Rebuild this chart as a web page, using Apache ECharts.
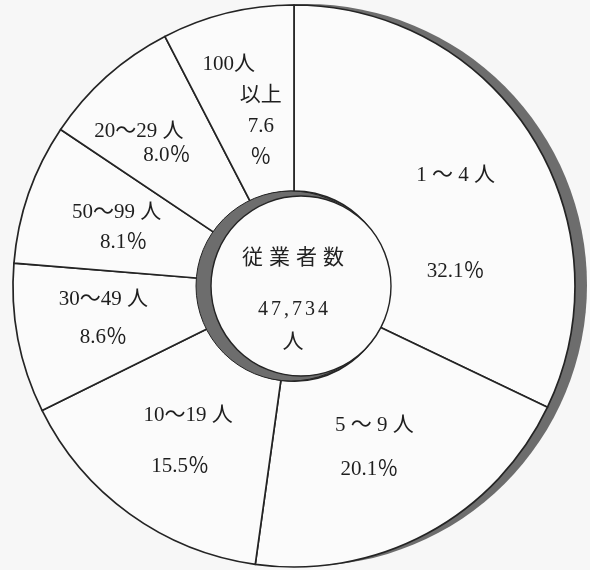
<!DOCTYPE html>
<html>
<head>
<meta charset="utf-8">
<script src="https://cdn.jsdelivr.net/npm/echarts@6/dist/echarts.min.js"></script>
<style>
html,body{margin:0;padding:0;background:#f7f7f7;}
#chart{width:590px;height:570px;}
</style>
</head>
<body>
<div id="chart"></div>
<script>
// Data (clockwise from 12 o'clock, as in the picture)
const categories = ['1 ～ 4 人', '5 ～ 9 人', '10～19 人', '30～49 人', '50～99 人', '20～29 人', '100人\n以上'];
const shares = [32.1, 20.1, 15.5, 8.6, 8.1, 8.0, 7.6];
const centerTitle = '従業者数';
const totalWorkers = 47734;
const totalUnit = '人';

// Label styling per slice: line spacing, box padding, name-line / value-line paddings
const labelLineHeights = [96, 44, 51, 38, 30, 24, 31];
const labelPaddings = [[78, 0, 0, 0], [0, 30, 14, 0], [0, 4, 0, 0], [0, 6, 6, 0], [8, 0, 0, 6], [0, 0, 0, 0], [22, 16, 0, 0]];
const nameLinePads = [[0, 0, 0, 0], [0, 0, 0, 10], [0, 0, 0, 16], [0, 0, 0, 0], [0, 0, 0, 0], [0, 56, 0, 0], [0, 24, 0, 0]];
const valueLinePads = [[0, 0, 0, 0], [0, 0, 0, 0], [0, 0, 0, 0], [0, 0, 0, 0], [0, 0, 0, 14], [0, 0, 0, 0], [0, 0, 0, 40]];

const serif = "'Liberation Serif','Noto Sans CJK JP',serif";
const ink = '#242424';
const shade = '#6d6d6d';
const C = [294, 286];   // ring centre (px)
const R = 281;          // outer radius
const HOLE = 95;        // hole radius

function spaced(s, key) {
  return s.split('').map(ch => '{' + key + '|' + ch + '}').join('');
}

const sliceData = categories.map((name, i) => {
  const lh = labelLineHeights[i];
  const parts = name.split('\n');
  const first = parts[0];
  const rest = parts.slice(1);
  return {
    name: name,
    value: shares[i],
    label: {
      padding: labelPaddings[i],
      formatter: p => {
        const v = p.value.toFixed(1);
        const lines = ['{a|' + first + '}'];
        rest.forEach(r => lines.push('{b|' + r + '}'));
        if (rest.length) { lines.push('{b|' + v + '}'); lines.push('{b|％}'); }
        else lines.push('{b|' + v + '％}');
        return lines.join('\n');
      },
      rich: {
        a: {fontFamily: serif, fontSize: 21, color: '#1e1e1e', lineHeight: lh, padding: nameLinePads[i]},
        b: {fontFamily: serif, fontSize: 21, color: '#1e1e1e', lineHeight: lh, padding: valueLinePads[i]}
      }
    }
  };
});

const chart = echarts.init(document.getElementById('chart'), null, {renderer: 'canvas'});
chart.setOption({
  backgroundColor: '#f7f7f7',
  animation: false,
  series: [
    { // outer shadow band (right side)
      type: 'pie', silent: true, z: 1,
      center: [C[0] + 12, C[1] - 1], radius: [0, R],
      label: {show: false}, labelLine: {show: false},
      itemStyle: {color: shade, borderWidth: 0},
      data: [{value: 1, name: 'shadow'}]
    },
    { // main ring
      type: 'pie', silent: true, z: 2,
      center: C, radius: [HOLE, R],
      startAngle: 90, clockwise: true,
      avoidLabelOverlap: false,
      labelLayout: {hideOverlap: false},
      itemStyle: {color: '#fbfbfb', borderColor: ink, borderWidth: 1.7},
      label: {show: true, position: 'inside', align: 'center', overflow: 'none'},
      labelLine: {show: false},
      data: sliceData
    },
    { // hole inner wall shade
      type: 'pie', silent: true, z: 3,
      center: [C[0] - 3, C[1]], radius: [0, HOLE],
      label: {show: false}, labelLine: {show: false},
      itemStyle: {color: shade, borderColor: ink, borderWidth: 1},
      data: [{value: 1, name: 'hole'}]
    },
    { // hole floor with centre text
      type: 'pie', silent: true, z: 4,
      center: [C[0] + 7, C[1]], radius: [0, HOLE - 5],
      itemStyle: {color: '#fbfbfb', borderColor: ink, borderWidth: 1.4},
      labelLine: {show: false},
      label: {
        show: true, position: 'center', offset: [-8, 4],
        formatter: () => spaced(centerTitle, 't') + '\n' +
          spaced(totalWorkers.toLocaleString('en-US'), 'n') + '\n{u|' + totalUnit + '}',
        rich: {
          t: {fontFamily: serif, fontSize: 21, color: '#222', lineHeight: 70, padding: [0, 3, 0, 3]},
          n: {fontFamily: serif, fontSize: 20, color: '#222', lineHeight: 34, padding: [0, 1.5, 0, 1.5]},
          u: {fontFamily: serif, fontSize: 21, color: '#222', lineHeight: 30}
        }
      },
      data: [{value: 1, name: 'total'}]
    }
  ]
});
</script>
</body>
</html>
